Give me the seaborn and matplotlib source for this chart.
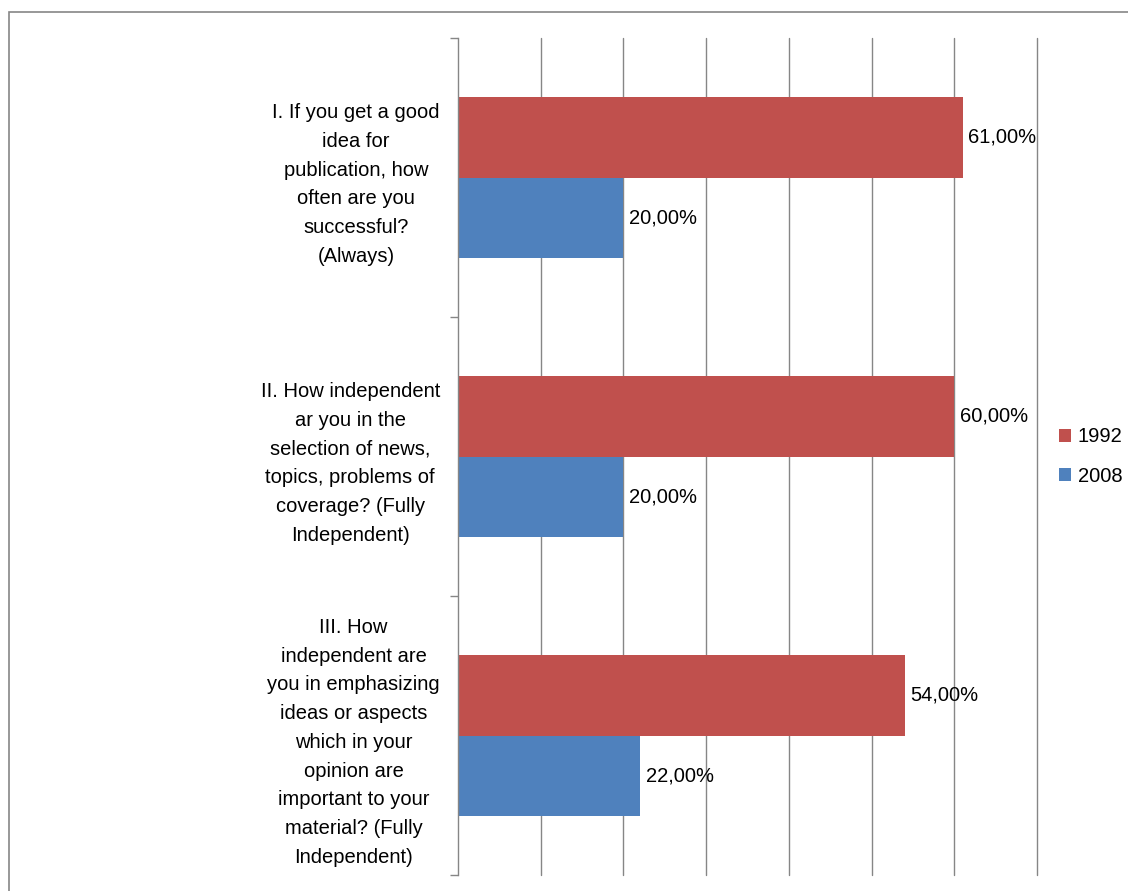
import numpy as np
import matplotlib.pyplot as plt
import matplotlib.patches as mpatches
import seaborn as sb
import pandas as pd

# Data
questions = [
    "I. If you get a good\nidea for\npublication, how\noften are you\nsuccessful?\n(Always)",
    "II. How independent\nar you in the\nselection of news,\ntopics, problems of\ncoverage? (Fully\nIndependent)",
    "III. How\nindependent are\nyou in emphasizing\nideas or aspects\nwhich in your\nopinion are\nimportant to your\nmaterial? (Fully\nIndependent)",
]
years = ["1992", "2008"]
vals_1992 = [61.0, 60.0, 54.0]
vals_2008 = [20.0, 20.0, 22.0]
colors = ["#C0504D", "#4F81BD"]

df = pd.DataFrame({
    "question": questions * 2,
    "year": [years[0]] * 3 + [years[1]] * 3,
    "value": vals_1992 + vals_2008,
})

sb.set_style("white")
plt.rcParams["font.family"] = ["Liberation Sans", "DejaVu Sans"]
plt.rcParams["text.color"] = "black"
plt.rcParams["ytick.color"] = "black"
fs = 14.5

fig = plt.figure(figsize=(11.28, 8.91), dpi=100)
ax = fig.add_axes([458 / 1128, 1 - 875 / 891, (1037 - 458) / 1128, (875 - 38) / 891])

# outer frame of the chart area
fig.patches.append(mpatches.Rectangle((9 / 1128, -0.05), 1.2, 1 - 12 / 891 + 0.05,
                                      transform=fig.transFigure, fill=False,
                                      edgecolor="#868686", linewidth=1.2))

sb.barplot(data=df, y="question", x="value", hue="year", hue_order=years,
           palette=colors, width=0.574, saturation=1, orient="h", linewidth=0, ax=ax)

for cont in ax.containers:
    ax.bar_label(cont, labels=[f"{v:.2f}%".replace(".", ",") for v in cont.datavalues],
                 padding=4, fontsize=fs, color="black")

ax.set_xlim(0, 70)
ax.set_ylim(2.5, -0.5)
ax.set_xticks(np.arange(10, 71, 10))
ax.xaxis.grid(True, color="#868686", linewidth=1)
for gl in ax.xaxis.get_gridlines():
    gl.set_clip_on(False)
ax.tick_params(axis="x", length=0, labelbottom=False)
ax.set_xlabel("")
ax.set_ylabel("")

ax.set_yticks([0, 1, 2])
ax.set_yticklabels(questions, fontsize=fs, multialignment="center", linespacing=1.65,
                   color="black")
ax.set_yticks([-0.5, 0.5, 1.5, 2.5], minor=True)
ax.tick_params(axis="y", which="major", left=False, length=0, pad=13)
ax.tick_params(axis="y", which="minor", left=True, length=6, color="#868686", width=1)

for s in ["top", "right", "bottom"]:
    ax.spines[s].set_visible(False)
ax.spines["left"].set_color("#868686")
ax.spines["left"].set_linewidth(1)

ax.legend(loc="center left", bbox_to_anchor=(1.006, 0.5), frameon=False,
          fontsize=fs, handlelength=0.6, handleheight=0.6, handletextpad=0.35,
          labelspacing=1.0)

fig.savefig("out.png", dpi=100)
